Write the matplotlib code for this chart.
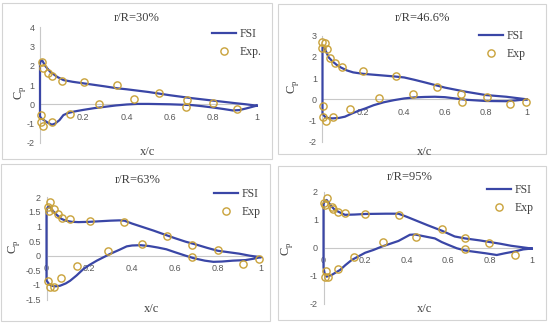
import matplotlib
matplotlib.use('Agg')
import matplotlib.pyplot as plt
from matplotlib.patches import Rectangle

plt.rcParams['axes.unicode_minus'] = False

# ---- data ----
titles = ['r/R=30%', 'r/R=46.6%', 'r/R=63%', 'r/R=95%']
exp_names = ['Exp.', 'Exp', 'Exp', 'Exp']

# r/R = 30%  (FSI loop: trailing edge -> upper surface -> leading edge -> lower surface -> trailing edge)
fsi30_x = [1.0, 0.95, 0.9, 0.8, 0.7, 0.6, 0.5, 0.4, 0.357, 0.3, 0.2, 0.15, 0.108, 0.08, 0.046, 0.025, 0.01, 0.003, 0.0,
           0.0, 0.005, 0.02, 0.04, 0.055, 0.07, 0.09, 0.108, 0.13, 0.16, 0.2, 0.25, 0.3, 0.35, 0.4, 0.45, 0.5, 0.6,
           0.7, 0.75, 0.8, 0.85, 0.89, 0.92, 0.95, 1.0]
fsi30_cp = [-0.07, 0.0, 0.06, 0.19, 0.32, 0.47, 0.64, 0.78, 0.83, 0.93, 1.09, 1.17, 1.26, 1.42, 1.7, 1.98, 2.28, 2.25, 2.1,
            -0.62, -0.72, -0.84, -0.98, -1.06, -1.0, -0.82, -0.56, -0.45, -0.37, -0.29, -0.2, -0.13, -0.06, -0.01,
            0.02, 0.02, 0.0, -0.04, -0.1, -0.17, -0.25, -0.32, -0.3, -0.22, -0.07]
exp30_x = [0.011, 0.015, 0.038, 0.054, 0.1, 0.205, 0.357, 0.551, 0.677, 0.797, 0.911,
           0.003, 0.003, 0.015, 0.054, 0.138, 0.274, 0.434, 0.674]
exp30_cp = [2.21, 1.9, 1.64, 1.47, 1.23, 1.17, 1.0, 0.57, 0.22, 0.05, -0.24,
            -0.55, -0.9, -1.13, -0.9, -0.5, 0.03, 0.26, -0.12]

# r/R = 46.6%
fsi46_x = [1.0, 0.9, 0.8, 0.7, 0.6, 0.5, 0.45, 0.4, 0.35, 0.3, 0.2, 0.15, 0.12, 0.09, 0.07, 0.05, 0.03, 0.02, 0.01, 0.0,
           0.0, 0.012, 0.03, 0.05, 0.08, 0.11, 0.144, 0.18, 0.21, 0.25, 0.3, 0.35, 0.4, 0.45, 0.5, 0.55, 0.6, 0.65,
           0.7, 0.8, 0.9, 0.95, 1.0]
fsi46_cp = [0.0, 0.12, 0.2, 0.36, 0.55, 0.8, 0.92, 1.03, 1.08, 1.12, 1.2, 1.27, 1.36, 1.5, 1.62, 1.78, 1.98, 2.2, 2.4, 2.45,
            -0.67, -0.83, -0.89, -0.9, -0.88, -0.82, -0.67, -0.53, -0.43, -0.28, -0.14, -0.04, 0.04, 0.09, 0.11,
            0.12, 0.1, 0.04, -0.02, -0.08, -0.09, -0.05, 0.0]
exp46_x = [0.0, 0.012, 0.0, 0.024, 0.037, 0.061, 0.097, 0.2, 0.359, 0.56, 0.677, 0.805, 0.998,
           0.004, 0.004, 0.016, 0.053, 0.135, 0.278, 0.442, 0.682, 0.916]
exp46_cp = [2.72, 2.64, 2.4, 2.36, 1.93, 1.73, 1.54, 1.35, 1.1, 0.59, 0.25, 0.12, -0.11,
            -0.32, -0.82, -1.01, -0.85, -0.46, 0.05, 0.24, -0.14, -0.24]

# r/R = 63%
fsi63_x = [1.0, 0.95, 0.9, 0.85, 0.8, 0.75, 0.7, 0.65, 0.6, 0.565, 0.5, 0.45, 0.4, 0.364, 0.34, 0.3, 0.25, 0.2, 0.15,
           0.118, 0.09, 0.07, 0.04, 0.02, 0.012, 0.005, 0.0,
           0.0, 0.01, 0.02, 0.04, 0.063, 0.09, 0.11, 0.14, 0.172, 0.2, 0.235, 0.27, 0.3, 0.34, 0.375, 0.4, 0.44,
           0.48, 0.52, 0.56, 0.6, 0.65, 0.69, 0.74, 0.78, 0.82, 0.87, 0.93, 0.97, 1.0]
fsi63_cp = [-0.05, 0.0, 0.07, 0.12, 0.17, 0.27, 0.38, 0.48, 0.6, 0.69, 0.86, 0.98, 1.1, 1.2, 1.21, 1.2, 1.18, 1.16, 1.15,
            1.16, 1.2, 1.26, 1.45, 1.62, 1.7, 1.65, 1.55,
            -0.85, -0.95, -1.02, -1.05, -1.03, -0.95, -0.86, -0.68, -0.46, -0.32, -0.17, -0.04, 0.07, 0.2, 0.32,
            0.35, 0.36, 0.33, 0.28, 0.22, 0.12, 0.0, -0.09, -0.17, -0.21, -0.2, -0.17, -0.15, -0.1, -0.05]
exp63_x = [0.016, 0.006, 0.012, 0.036, 0.052, 0.071, 0.11, 0.203, 0.364, 0.565, 0.679, 0.803, 0.995,
           0.006, 0.016, 0.036, 0.068, 0.141, 0.286, 0.445, 0.679, 0.917]
exp63_cp = [1.83, 1.68, 1.53, 1.6, 1.42, 1.3, 1.26, 1.19, 1.14, 0.69, 0.37, 0.2, -0.11,
            -0.87, -1.06, -1.06, -0.77, -0.34, 0.16, 0.39, -0.05, -0.3]

# r/R = 95%
fsi95_x = [1.0, 0.95, 0.9, 0.85, 0.8, 0.75, 0.68, 0.63, 0.6, 0.57, 0.5, 0.44, 0.4, 0.36, 0.3, 0.2, 0.15, 0.103, 0.08,
           0.055, 0.035, 0.015, 0.005, 0.0,
           0.0, 0.005, 0.015, 0.039, 0.08, 0.105, 0.135, 0.17, 0.2, 0.24, 0.28, 0.32, 0.36, 0.39, 0.415, 0.44,
           0.48, 0.535, 0.568, 0.6, 0.64, 0.68, 0.73, 0.78, 0.832, 0.87, 0.92, 0.96, 1.0]
fsi95_cp = [-0.03, 0.02, 0.07, 0.14, 0.2, 0.26, 0.33, 0.4, 0.5, 0.6, 0.8, 0.98, 1.1, 1.21, 1.21, 1.2, 1.18, 1.17, 1.25,
            1.34, 1.5, 1.7, 1.65, 1.55,
            -0.7, -0.9, -1.03, -0.97, -0.79, -0.62, -0.44, -0.3, -0.18, -0.08, 0.04, 0.14, 0.24, 0.36, 0.46, 0.47,
            0.41, 0.33, 0.2, 0.1, -0.02, -0.1, -0.15, -0.2, -0.26, -0.2, -0.13, -0.06, -0.03]
exp95_x = [0.015, 0.004, 0.007, 0.039, 0.047, 0.068, 0.103, 0.2, 0.363, 0.568, 0.68, 0.797,
           0.01, 0.007, 0.023, 0.068, 0.148, 0.287, 0.443, 0.68, 0.92]
exp95_cp = [1.76, 1.6, 1.52, 1.46, 1.37, 1.28, 1.25, 1.2, 1.16, 0.65, 0.36, 0.16,
            -0.82, -1.05, -1.05, -0.77, -0.34, 0.21, 0.39, -0.06, -0.26]

yticks = [[4, 3, 2, 1, 0, -1, -2], [3, 2, 1, 0, -1, -2],
          [2, 1.5, 1, 0.5, 0, -0.5, -1, -1.5], [2, 1, 0, -1, -2]]
xticks = [[0.2, 0.4, 0.6, 0.8, 1], [0.2, 0.4, 0.6, 0.8, 1],
          [0, 0.2, 0.4, 0.6, 0.8, 1], [0, 0.2, 0.4, 0.6, 0.8, 1]]

fsi_x = [fsi30_x, fsi46_x, fsi63_x, fsi95_x]
fsi_cp = [fsi30_cp, fsi46_cp, fsi63_cp, fsi95_cp]
exp_x = [exp30_x, exp46_x, exp63_x, exp95_x]
exp_cp = [exp30_cp, exp46_cp, exp63_cp, exp95_cp]

# ---- layout (pixels, y measured from top) ----
W, H = 550, 324
boxes = [(2, 3, 272, 159), (278, 4, 546, 154), (1, 164, 270, 321), (278, 166, 546, 320)]
plot_px = [(40, 256.7, 27.3, 142.8), (322.5, 526.7, 35.7, 141.7),
           (46.5, 260.5, 197.3, 299.5), (323.5, 531.7, 191.5, 303.9)]
title_px = [(137, 18), (422, 18), (138, 180), (410, 177)]
xlab_px = [(148, 152), (425, 152), (152, 309), (425, 309)]
ylab_px = [(20, 93), (293, 87), (14, 247), (287, 249)]
leg_px = [(212, 28), (479, 30), (214, 188), (487, 184)]

line_col = '#3a46a6'
mark_col = '#c9a23a'
axis_col = '#c8c8c8'
serif = ['Liberation Serif', 'DejaVu Serif']
sans = ['Liberation Sans', 'DejaVu Sans']

fig = plt.figure(figsize=(W / 100, H / 100), dpi=100)
fig.patch.set_facecolor('white')

for i in range(4):
    bx0, by0, bx1, by1 = boxes[i]
    fig.patches.append(Rectangle((bx0 / W, 1 - by1 / H), (bx1 - bx0) / W, (by1 - by0) / H,
                                 transform=fig.transFigure, fill=False, edgecolor='#d4d4d4', lw=0.8))
    x0, x1, yt, yb = plot_px[i]
    ax = fig.add_axes([x0 / W, 1 - yb / H, (x1 - x0) / W, (yb - yt) / H])
    ax.set_facecolor('none')
    ax.plot(fsi_x[i], fsi_cp[i], color=line_col, lw=1.6, label='FSI', zorder=3, clip_on=False)
    ax.plot(exp_x[i], exp_cp[i], 'o', ms=5.2, mfc='none', mec=mark_col, mew=1.0,
            label=exp_names[i], zorder=4, clip_on=False)
    ax.set_xlim(0, 1)
    ax.set_ylim(min(yticks[i]), max(yticks[i]))
    ax.spines['left'].set_position(('data', 0))
    ax.spines['bottom'].set_position(('data', 0))
    ax.spines['top'].set_visible(False)
    ax.spines['right'].set_visible(False)
    for s in ['left', 'bottom']:
        ax.spines[s].set_color(axis_col)
        ax.spines[s].set_linewidth(0.8)
    ax.set_yticks(yticks[i])
    ax.set_yticklabels([('%g' % v) for v in yticks[i]], family=sans, fontsize=6.5, color='#595959')
    ax.set_xticks(xticks[i])
    ax.set_xticklabels([('%g' % v) for v in xticks[i]], family=sans, fontsize=6.5, color='#595959')
    ax.tick_params(axis='both', length=0)
    ax.tick_params(axis='x', pad=6)
    ax.tick_params(axis='y', pad=4)

    tx, ty = title_px[i]
    fig.text(tx / W, 1 - ty / H, titles[i], ha='center', va='center', family=serif, fontsize=9, color='#404040')
    lx, ly = xlab_px[i]
    fig.text(lx / W, 1 - ly / H, 'x/c', ha='center', va='center', family=serif, fontsize=9, color='#404040')
    cx, cy = ylab_px[i]
    fig.text(cx / W, 1 - cy / H, r'C$_\mathregular{p}$', ha='center', va='center', rotation=90,
             family=serif, fontsize=9, color='#404040')
    gx, gy = leg_px[i]
    leg = ax.legend(loc='upper left', bbox_to_anchor=(gx / W, 1 - gy / H), bbox_transform=fig.transFigure,
                    frameon=False, prop={'family': serif, 'size': 8.5}, handlelength=2.0, handletextpad=0.3,
                    labelspacing=0.5, borderpad=0, borderaxespad=0)
    for t in leg.get_texts():
        t.set_color('#404040')

fig.savefig('out.png', dpi=100, facecolor='white')
